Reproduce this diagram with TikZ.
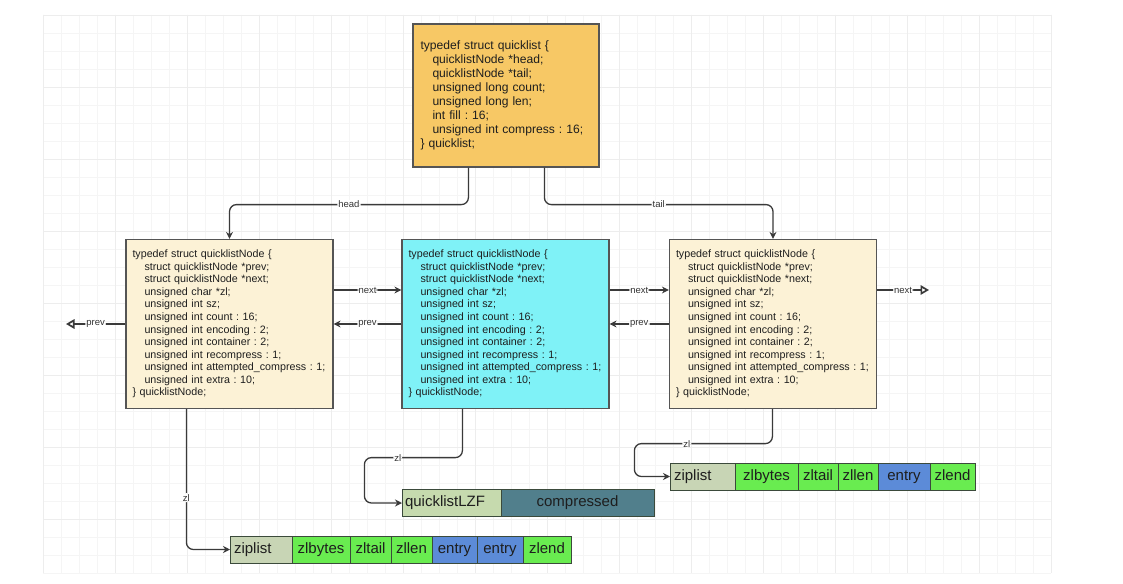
\documentclass[tikz,border=0pt]{standalone}
\usepackage{fontspec}
\setmainfont{Liberation Sans}
\usetikzlibrary{arrows.meta,calc}
\definecolor{qfill}{HTML}{F7C865}
\definecolor{cream}{HTML}{FCF2D6}
\definecolor{cyanbox}{HTML}{7FF2F7}
\definecolor{boxline}{HTML}{555555}
\definecolor{txt}{HTML}{1E1E1E}
\definecolor{lnc}{HTML}{3A3A3A}
\definecolor{lbltxt}{HTML}{333333}
\definecolor{zgray}{HTML}{C8D5B5}
\definecolor{lzfg}{HTML}{C6DAAE}
\definecolor{zgreen}{HTML}{69EC50}
\definecolor{zblue}{HTML}{5C8BD8}
\definecolor{compc}{HTML}{517F8C}
\definecolor{celline}{HTML}{3B4A3B}
\definecolor{gminorc}{HTML}{F5F5F5}
\definecolor{gmajorc}{HTML}{EDEDED}
\newcommand\indq{\hspace*{12pt}}
\frenchspacing
\begin{document}
\begin{tikzpicture}[x=1pt,y=-1pt,
  structbox/.style={draw=boxline, line width=1.2pt, align=left, inner xsep=6.5pt, inner ysep=0pt,
     text width=194pt, minimum height=169pt, font=\fontsize{10.7}{12.56}\selectfont, text=txt},
  qbox/.style={draw=boxline, line width=1.2pt, fill=qfill, align=left, inner xsep=7.5pt, inner ysep=0pt,
     text width=171pt, minimum height=143pt, font=\fontsize{12.1}{14}\selectfont, text=txt},
  conn/.style={draw=lnc, line width=1.3pt, rounded corners=7pt},
  arr/.style={conn, -{Stealth[length=7pt,width=7pt]}},
  oarr/.style={conn, -{Triangle[open,length=8.5pt,width=9.5pt,line width=1.7pt]}},
  lbl/.style={fill=white, inner sep=1pt, font=\fontsize{9.5}{11}\selectfont, text=lbltxt},
  cell/.style={draw=celline, line width=1pt, minimum height=27pt, inner sep=0pt, outer sep=0pt, anchor=west,
     text height=11pt, text depth=3.3pt, font=\fontsize{15}{17}\selectfont, text=txt},
  lcell/.style={cell, align=left, inner xsep=4pt},
  gminor/.style={draw=gminorc, line width=0.6pt},
  gmajor/.style={draw=gmajorc, line width=0.8pt}
]
\useasboundingbox (0,0) rectangle (1123,583);
\fill[white] (0,0) rectangle (1123,583);
% background grid
\foreach \i in {0,...,56} { \draw[gminor] (43+18*\i,15) -- (43+18*\i,573); }
\foreach \j in {0,...,31} { \draw[gminor] (43,15+18*\j) -- (1051,15+18*\j); }
\foreach \i in {0,...,14} { \draw[gmajor] (43+72*\i,15) -- (43+72*\i,573); }
\foreach \j in {0,...,7} { \draw[gmajor] (43,15+72*\j) -- (1051,15+72*\j); }

% quicklist struct
\node[qbox] (Q) at (506,95.5) {typedef struct quicklist \{\\
\indq quicklistNode *head;\\
\indq quicklistNode *tail;\\
\indq unsigned long count;\\
\indq unsigned long len;\\
\indq int fill : 16;\\
\indq unsigned int compress : 16;\\
\} quicklist;};

% quicklistNode structs
\newcommand\qlnodetext{typedef struct quicklistNode \{\\
\indq struct quicklistNode *prev;\\
\indq struct quicklistNode *next;\\
\indq unsigned char *zl;\\
\indq unsigned int sz;\\
\indq unsigned int count : 16;\\
\indq unsigned int encoding : 2;\\
\indq unsigned int container : 2;\\
\indq unsigned int recompress : 1;\\
\indq unsigned int attempted\_compress : 1;\\
\indq unsigned int extra : 10;\\
\} quicklistNode;}
\node[structbox, fill=cream] (L) at (229.5,324) {\qlnodetext};
\node[structbox, fill=cyanbox] (M) at (505.5,324) {\qlnodetext};
\node[structbox, fill=cream] (R) at (773,324) {\qlnodetext};

% bottom ziplist
\node[lcell, fill=zgray, minimum width=62pt, text width=54pt] (zb0) at (230,549.5) {ziplist};
\node[cell, fill=zgreen, minimum width=58pt] (zb1) at (zb0.east) {zlbytes};
\node[cell, fill=zgreen, minimum width=41pt] (zb2) at (zb1.east) {zltail};
\node[cell, fill=zgreen, minimum width=41pt] (zb3) at (zb2.east) {zllen};
\node[cell, fill=zblue, minimum width=45pt] (zb4) at (zb3.east) {entry};
\node[cell, fill=zblue, minimum width=46pt] (zb5) at (zb4.east) {entry};
\node[cell, fill=zgreen, minimum width=48pt] (zb6) at (zb5.east) {zlend};

% top ziplist
\node[lcell, fill=zgray, minimum width=65pt, text width=57pt] (zt0) at (670,476.5) {ziplist};
\node[cell, fill=zgreen, minimum width=63pt] (zt1) at (zt0.east) {zlbytes};
\node[cell, fill=zgreen, minimum width=40pt] (zt2) at (zt1.east) {zltail};
\node[cell, fill=zgreen, minimum width=40pt] (zt3) at (zt2.east) {zllen};
\node[cell, fill=zblue, minimum width=52pt] (zt4) at (zt3.east) {entry};
\node[cell, fill=zgreen, minimum width=45pt] (zt5) at (zt4.east) {zlend};

% quicklistLZF
\node[lcell, fill=lzfg, minimum width=99pt, inner xsep=3pt, text width=93pt] (lz0) at (402,503) {quicklistLZF};
\node[cell, fill=compc, minimum width=153pt] (lz1) at (lz0.east) {compressed};

% free ends
\coordinate (rn) at (929,290);
\coordinate (lp) at (66,324);

% head / tail
\draw[arr] ($(Q.south west)+(56,0)$) -- ++(0,37) -| node[lbl,pos=0.25]{head} (L.north);
\draw[arr] ($(Q.south west)+(132,0)$) -- ++(0,37) -| node[lbl,pos=0.25]{tail} (R.north);

% next / prev
\draw[arr] ([yshift=34pt]L.east) -- node[lbl]{next} ([yshift=34pt]M.west);
\draw[arr] (M.west) -- node[lbl]{prev} (L.east);
\draw[arr] ([yshift=34pt]M.east) -- node[lbl]{next} ([yshift=34pt]R.west);
\draw[arr] (R.west) -- node[lbl]{prev} (M.east);
\draw[oarr] ([yshift=34pt]R.east) -- node[lbl]{next} (rn);
\draw[oarr] (L.west) -- node[lbl]{prev} (lp);

% zl pointers
\draw[arr] ($(L.south west)+(61,0)$) |- node[lbl,pos=0.315]{zl} (zb0.west);
\draw[arr] ($(M.south west)+(61,0)$) -- ++(0,48.5) -- node[lbl,pos=0.66]{zl} ++(-98,0) |- (lz0.west);
\draw[arr] ($(R.south west)+(103.5,0)$) -- ++(0,34.5) -- node[lbl,pos=0.62]{zl} ++(-138,0) |- (zt0.west);
\end{tikzpicture}
\end{document}
